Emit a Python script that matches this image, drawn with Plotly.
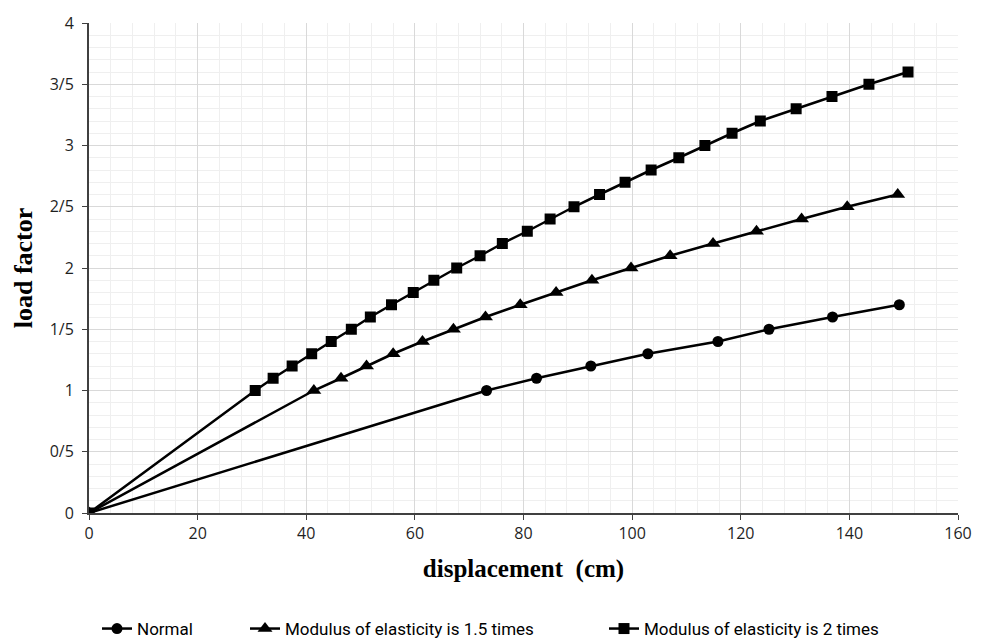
import plotly.graph_objects as go

# Load factor vs. displacement for three stiffness cases
normal_disp = [0, 73.2, 82.4, 92.4, 102.9, 115.8, 125.2, 136.9, 149.2]
normal_load = [0, 1.0, 1.1, 1.2, 1.3, 1.4, 1.5, 1.6, 1.7]

e15_disp = [0, 41.4, 46.4, 51.1, 56.0, 61.4, 67.1, 73.0, 79.4, 86.0, 92.6,
            99.8, 107.0, 114.9, 122.9, 131.2, 139.6, 148.9]
e15_load = [0, 1.0, 1.1, 1.2, 1.3, 1.4, 1.5, 1.6, 1.7, 1.8, 1.9,
            2.0, 2.1, 2.2, 2.3, 2.4, 2.5, 2.6]

e2_disp = [0, 30.6, 33.9, 37.4, 41.0, 44.6, 48.3, 51.8, 55.7, 59.7, 63.5,
           67.7, 72.0, 76.1, 80.7, 84.9, 89.3, 94.0, 98.7, 103.5, 108.6,
           113.4, 118.4, 123.6, 130.2, 136.8, 143.6, 150.8]
e2_load = [0, 1.0, 1.1, 1.2, 1.3, 1.4, 1.5, 1.6, 1.7, 1.8, 1.9,
           2.0, 2.1, 2.2, 2.3, 2.4, 2.5, 2.6, 2.7, 2.8, 2.9,
           3.0, 3.1, 3.2, 3.3, 3.4, 3.5, 3.6]

series_names = ["Normal", "Modulus of elasticity is 1.5 times",
                "Modulus of elasticity is 2 times"]

y_tick_vals = [0, 0.5, 1, 1.5, 2, 2.5, 3, 3.5, 4]
y_tick_text = ["0", "0/5", "1", "1/5", "2", "2/5", "3", "3/5", "4"]
x_tick_vals = [0, 20, 40, 60, 80, 100, 120, 140, 160]

label_font = dict(family="Open Sans, Arial, sans-serif", size=16, color="#1f1f1f")
legend_font = dict(family="Roboto, Arial, sans-serif", size=17, color="#000000")
x_title_font = dict(family="Liberation Serif, Times New Roman, serif", size=25, color="#000000")
y_title_font = dict(family="Liberation Serif, Times New Roman, serif", size=26, color="#000000")

fig = go.Figure()

traces = [
    (normal_disp, normal_load, "circle", 11, "legend"),
    (e15_disp, e15_load, "triangle-up", 13, "legend2"),
    (e2_disp, e2_load, "square", 11, "legend3"),
]
for (xs, ys, sym, msize, leg), name in zip(traces, series_names):
    fig.add_trace(go.Scatter(
        x=xs, y=ys, name=name, mode="lines+markers",
        line=dict(color="#000000", width=2.5),
        marker=dict(symbol=sym, size=msize, color="#000000"),
        legend=leg,
    ))

legend_common = dict(
    orientation="h", yanchor="middle", xanchor="left",
    yref="container", xref="container",
    font=legend_font, bgcolor="rgba(0,0,0,0)", itemwidth=30,
)
legend_y = 1 - 629 / 642

fig.update_layout(
    width=988, height=642,
    margin=dict(l=89, r=30, t=17, b=129),
    paper_bgcolor="#ffffff",
    plot_bgcolor="#ffffff",
    showlegend=True,
    legend=dict(x=97 / 988, y=legend_y, **legend_common),
    legend2=dict(x=245 / 988, y=legend_y, **legend_common),
    legend3=dict(x=604 / 988, y=legend_y, **legend_common),
    xaxis=dict(
        range=[0, 160], tickvals=x_tick_vals, ticks="outside", ticklen=5,
        tickcolor="#404040", showline=True, linecolor="#404040", linewidth=2,
        showgrid=True, gridcolor="#d9d9d9", gridwidth=1,
        minor=dict(dtick=4, showgrid=True, gridcolor="#efefef", gridwidth=1),
        tickfont=label_font, zeroline=False,
        title=dict(text="<b>displacement  (cm)</b>", font=x_title_font, standoff=16),
    ),
    yaxis=dict(
        range=[0, 4], tickvals=y_tick_vals, ticktext=y_tick_text,
        ticks="outside", ticklen=5, tickcolor="#404040", ticklabelstandoff=5,
        showline=True, linecolor="#404040", linewidth=2,
        showgrid=True, gridcolor="#d9d9d9", gridwidth=1,
        minor=dict(dtick=0.1, showgrid=True, gridcolor="#efefef", gridwidth=1),
        tickfont=label_font, zeroline=False,
        title=dict(text="<b>load factor</b>", font=y_title_font, standoff=10),
    ),
)

fig.write_html("out.html")
